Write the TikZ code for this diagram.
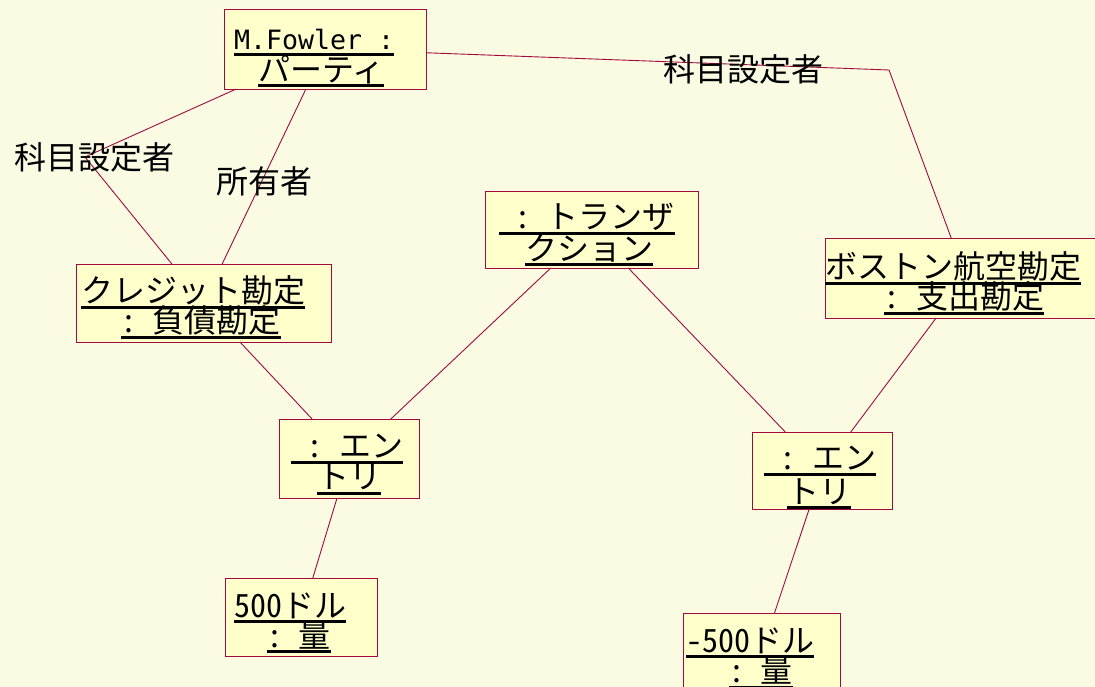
\documentclass[tikz,border=0pt]{standalone}
\usepackage{fontspec}
\setmainfont{Noto Sans CJK JP}
\newfontfamily\monofont{DejaVu Sans Mono}
\newfontfamily\hwfont[RawFeature=+hwid]{Noto Sans CJK JP}
\definecolor{bgcol}{RGB}{251,251,228}
\definecolor{boxfill}{RGB}{255,255,204}
\definecolor{linecol}{RGB}{160,10,60}
\newcommand\undl[1]{\setbox0=\hbox{#1}\rlap{\rule[-6pt]{\wd0}{3pt}}\box0}
\newcommand\hcol{\makebox[16pt][c]{:}}
\newcommand\hsp{\hspace*{16pt}}
\newcommand\objtext[8]{%
  \vbox to #2pt{\offinterlineskip
    \vskip\dimexpr #3pt-34.5pt\relax
    \hbox to #1pt{\hskip#4pt\undl{#5}\rule[-6pt]{0pt}{36pt}\hss}%
    \vskip\dimexpr #6pt-#3pt-36pt\relax
    \hbox to #1pt{\hskip#7pt\undl{#8}\rule[-6pt]{0pt}{36pt}\hss}%
    \vss}}
\tikzset{
  obj/.style={draw=linecol, line width=0.9pt, fill=boxfill, inner sep=0pt, outer sep=0pt,
    anchor=north west, font=\fontsize{32pt}{31pt}\selectfont},
  lbl/.style={inner sep=0pt, anchor=base west, font=\fontsize{32pt}{31pt}\selectfont},
  conn/.style={draw=linecol, line width=0.9pt}
}
\begin{document}
\begin{tikzpicture}[x=1pt,y=-1pt]
\useasboundingbox (0,0) rectangle (1095,687);
\fill[bgcol] (0,0) rectangle (1095,687);
\clip (0,0) rectangle (1095,687);

\node[obj] (fowler) at (224,9)
  {\objtext{202}{80}{45.3}{10}{{\monofont\fontsize{26.6pt}{31pt}\selectfont M.Fowler :}}{76.7}{34}{パーティ}};
\node[obj] (credit) at (76,264)
  {\objtext{255}{78}{43.3}{5}{クレジット勘定}{73.3}{45}{\hcol\hsp 負債勘定}};
\node[obj] (trans) at (485,191)
  {\objtext{213}{77}{42.3}{14}{\hsp\hcol\hsp トランザ}{74}{40}{クション}};
\node[obj] (boston) at (825,238)
  {\objtext{282}{80}{45.3}{0}{ボストン航空勘定}{75.3}{59}{\hcol\hsp 支出勘定}};
\node[obj] (entryL) at (279,419)
  {\objtext{140}{79}{43}{12}{\hsp\hcol\hsp エン}{74}{38}{トリ}};
\node[obj] (entryR) at (752,432)
  {\objtext{140}{77}{42.3}{12}{\hsp\hcol\hsp エン}{75.7}{35}{トリ}};
\node[obj] (amtL) at (225,578)
  {\objtext{152}{78}{43.7}{9}{{\hwfont 500}ドル}{73.7}{42}{\hcol\hsp 量}};
\node[obj] (amtR) at (683,613)
  {\objtext{157}{78}{43.7}{3}{{\hwfont -500}ドル}{74}{46}{\hcol\hsp 量}};

\coordinate (k1) at (85,157);
\coordinate (k2) at (889,70);

\draw[conn] (fowler) -- (credit);
\draw[conn] (fowler) -- (k1) -- (credit);
\draw[conn] (fowler) -- (k2) -- (boston);
\draw[conn] (credit) -- (entryL);
\draw[conn] (trans) -- (entryL);
\draw[conn] (trans) -- (entryR);
\draw[conn] (boston) -- (entryR);
\draw[conn] (entryL) -- (amtL);
\draw[conn] (entryR) -- (amtR);

\node[lbl] (lab1) at (14,170) {科目設定者};
\node[lbl] (lab2) at (216,194) {所有者};
\node[lbl] (lab3) at (663,82) {科目設定者};
\end{tikzpicture}
\end{document}
